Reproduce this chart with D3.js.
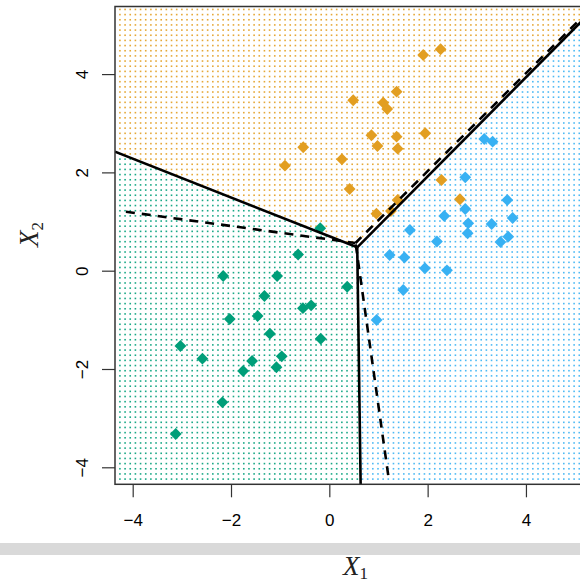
<!DOCTYPE html>
<html>
<head>
<meta charset="utf-8">
<script src="https://cdn.jsdelivr.net/npm/d3@7"></script>
<style>
  html, body { margin: 0; padding: 0; background: #fff; }
  svg { display: block; }
</style>
</head>
<body>
<svg id="chart" width="580" height="585"></svg>
<script>
// Observations for the three classes: [X1, X2]
const classOrange = [
  [2.264, 4.505], [1.910, 4.389], [1.369, 3.642], [0.486, 3.467], [1.097, 3.418],
  [1.178, 3.290], [0.857, 2.755], [1.369, 2.726], [1.951, 2.796], [-0.531, 2.511],
  [0.979, 2.537], [1.390, 2.482], [-0.903, 2.136], [0.256, 2.267], [0.413, 1.662],
  [2.281, 1.845], [2.657, 1.453], [1.390, 1.438], [0.958, 1.160], [1.253, 1.215]
];
const classBlue = [
  [3.152, 2.680], [3.322, 2.625], [2.765, 1.900], [3.620, 1.438], [2.765, 1.255],
  [2.338, 1.113], [3.729, 1.072], [2.826, 0.964], [3.302, 0.950], [1.640, 0.828],
  [2.814, 0.761], [3.640, 0.692], [2.189, 0.594], [3.481, 0.584], [1.227, 0.319],
  [1.528, 0.269], [1.945, 0.049], [2.393, 0.008], [1.504, -0.393], [0.962, -1.003]
];
const classGreen = [
  [-0.635, 0.330], [-2.159, -0.108], [-1.062, -0.108], [0.364, -0.326], [-1.320, -0.515],
  [-0.537, -0.763], [-0.370, -0.704], [-1.459, -0.922], [-2.026, -0.983], [-1.209, -1.282],
  [-0.175, -1.384], [-3.029, -1.532], [-2.582, -1.790], [-0.968, -1.742], [-1.571, -1.837],
  [-1.754, -2.041], [-1.076, -1.965], [-2.175, -2.678], [-3.125, -3.322], [-0.185, 0.863]
];

// Bayes decision boundary (solid): junction and the ends of its three rays
const bayesJunction = [0.568, 0.476];
const bayesEnds = [[-4.36, 2.421], [0.637, -4.346], [5.36, 5.306]];

// Estimated boundary (dashed): junction and the ends of its three rays
const fitJunction = [0.533, 0.564];
const fitEnds = [[-4.138, 1.200], [1.198, -4.16], [5.033, 5.046]];

const xTicks = [-4, -2, 0, 2, 4];
const yTicks = [-4, -2, 0, 2, 4];

const colors = { orange: "#E29E21", blue: "#38B1F3", green: "#009E79" };

const svg = d3.select("#chart");
const x = d3.scaleLinear().domain([-4.36, 5.36]).range([115, 592.8]);
const y = d3.scaleLinear().domain([-4.346, 5.375]).range([484.3, 6.5]);

// Region of a grid point according to the Bayes boundary rays
const ang = p => Math.atan2(p[1] - bayesJunction[1], p[0] - bayesJunction[0]);
const aL = ang(bayesEnds[0]), aD = ang(bayesEnds[1]), aU = ang(bayesEnds[2]);
function regionOf(p) {
  const a = ang(p);
  if (a >= aU && a <= aL) return "orange";
  if (a > aL || a < aD) return "green";
  return "blue";
}

// Background grid of small dots
const grid = [];
for (let i = 0; -4.26 + i * 0.105 <= 5.36; i++) {
  for (let j = 0; -4.24 + j * 0.105 <= 5.33; j++) {
    const p = [-4.26 + i * 0.105, -4.24 + j * 0.105];
    grid.push({ p, c: regionOf(p) });
  }
}
svg.append("g")
  .selectAll("rect")
  .data(grid)
  .join("rect")
  .attr("x", d => x(d.p[0]) - 0.8)
  .attr("y", d => y(d.p[1]) - 0.8)
  .attr("width", 1.6)
  .attr("height", 1.6)
  .attr("fill", d => colors[d.c])
  .attr("fill-opacity", 0.9);

// Observations as filled diamonds
const diamond = d3.symbol().type(d3.symbolSquare).size(70);
const pts = [
  ...classOrange.map(p => ({ p, c: "orange" })),
  ...classBlue.map(p => ({ p, c: "blue" })),
  ...classGreen.map(p => ({ p, c: "green" }))
];
svg.append("g")
  .selectAll("path")
  .data(pts)
  .join("path")
  .attr("d", diamond)
  .attr("transform", d => `translate(${x(d.p[0])},${y(d.p[1])}) rotate(45)`)
  .attr("fill", d => colors[d.c]);

// Boundaries
const line = d3.line().x(d => x(d[0])).y(d => y(d[1]));
svg.append("clipPath").attr("id", "plotclip")
  .append("rect").attr("x", 115).attr("y", 6.5).attr("width", 477.8).attr("height", 477.8);

svg.append("g").attr("clip-path", "url(#plotclip)")
  .selectAll("path")
  .data(bayesEnds)
  .join("path")
  .attr("d", e => line([e, bayesJunction]))
  .attr("fill", "none")
  .attr("stroke", "#000")
  .attr("stroke-width", 2.6)
  .attr("stroke-linejoin", "round");

svg.append("g").attr("clip-path", "url(#plotclip)")
  .selectAll("path")
  .data(fitEnds)
  .join("path")
  .attr("d", e => line([e, fitJunction]))
  .attr("fill", "none")
  .attr("stroke", "#000")
  .attr("stroke-width", 2.6)
  .attr("stroke-dasharray", "9,7");

// Plot frame
svg.append("rect")
  .attr("x", 115).attr("y", 6.5)
  .attr("width", 477.8).attr("height", 477.8)
  .attr("fill", "none")
  .attr("stroke", "#333")
  .attr("stroke-width", 1.5);

// Axes
const xAxis = svg.append("g")
  .attr("transform", "translate(0,484.3)")
  .call(d3.axisBottom(x).tickValues(xTicks).tickSize(13).tickPadding(17));
xAxis.select(".domain").remove();
xAxis.selectAll("line").attr("stroke", "#333").attr("stroke-width", 1.2);
xAxis.selectAll("text")
  .attr("font-family", "Liberation Sans, Arial, sans-serif")
  .attr("font-size", 17)
  .attr("fill", "#000");

const yAxis = svg.append("g")
  .attr("transform", "translate(115,0)")
  .call(d3.axisLeft(y).tickValues(yTicks).tickSize(13));
yAxis.select(".domain").remove();
yAxis.selectAll("line").attr("stroke", "#333").attr("stroke-width", 1.2);
yAxis.selectAll("text")
  .attr("x", null)
  .attr("dy", "0.35em")
  .attr("text-anchor", "middle")
  .attr("transform", "translate(-33,0) rotate(-90)")
  .attr("font-family", "Liberation Sans, Arial, sans-serif")
  .attr("font-size", 17)
  .attr("fill", "#000");

// Separator band above the x-axis title
svg.append("rect")
  .attr("x", 0).attr("y", 543)
  .attr("width", 580).attr("height", 12)
  .attr("fill", "#d9d9d9");

// Axis titles
const xt = svg.append("text")
  .attr("x", 343).attr("y", 575)
  .attr("font-family", "Liberation Serif, Times New Roman, serif")
  .attr("fill", "#222");
xt.append("tspan").attr("font-style", "italic").attr("font-size", 27).text("X");
xt.append("tspan").attr("font-size", 17).attr("dy", 4).text("1");

const yt = svg.append("text")
  .attr("transform", "translate(38,247) rotate(-90)")
  .attr("font-family", "Liberation Serif, Times New Roman, serif")
  .attr("fill", "#222");
yt.append("tspan").attr("font-style", "italic").attr("font-size", 27).text("X");
yt.append("tspan").attr("font-size", 17).attr("dy", 5).text("2");
</script>
</body>
</html>
